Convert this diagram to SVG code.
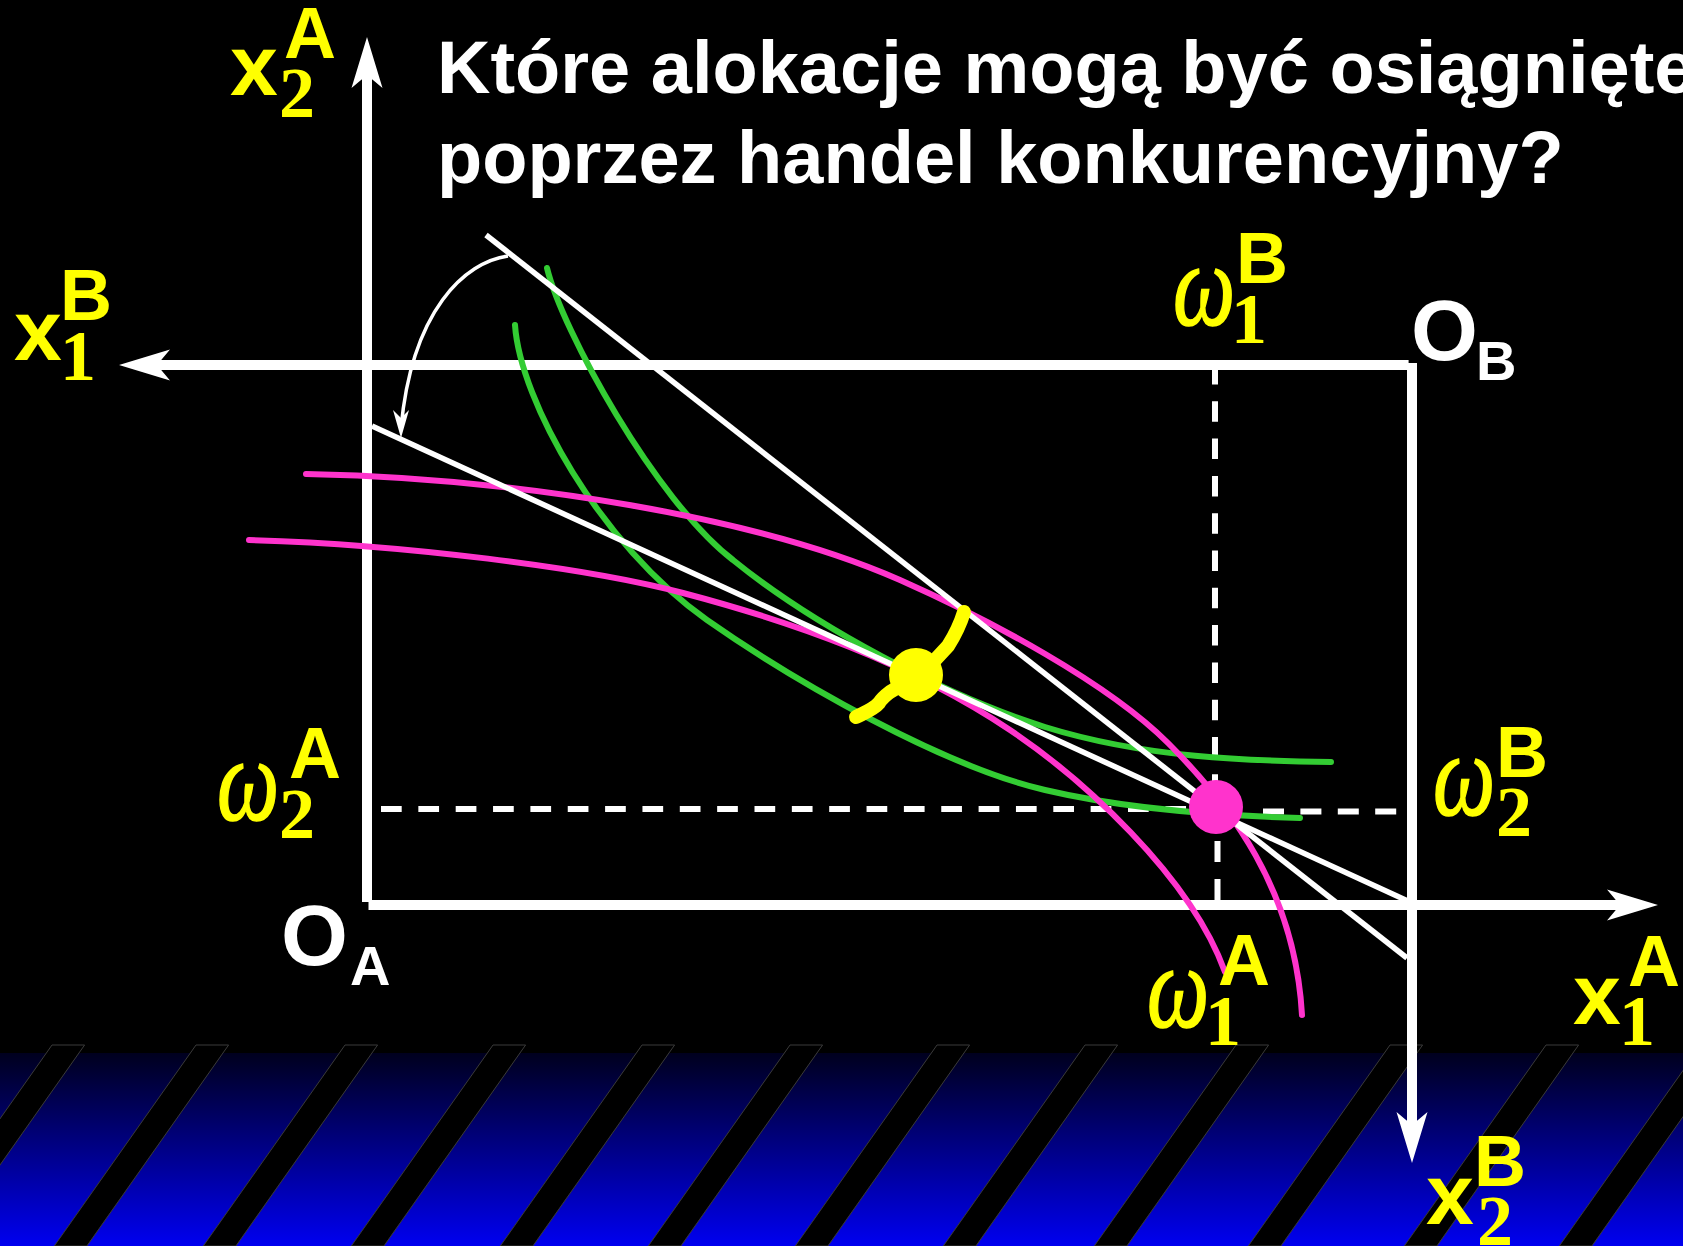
<svg xmlns="http://www.w3.org/2000/svg" width="1683" height="1246" viewBox="0 0 1683 1246">
<defs>
<linearGradient id="floor" x1="0" y1="1053" x2="0" y2="1246" gradientUnits="userSpaceOnUse">
<stop offset="0" stop-color="#00001e"/>
<stop offset="1" stop-color="#0000f0"/>
</linearGradient>
<marker id="ah" markerUnits="userSpaceOnUse" orient="auto" overflow="visible" markerWidth="1" markerHeight="1" refX="0" refY="0">
<path d="M38,0 L-13,-15.5 L0,0 L-13,15.5 Z" fill="#ffffff"/>
</marker>
<style>
.axis{fill:none;stroke:#ffffff;stroke-width:10}
.dash{fill:none;stroke:#ffffff;stroke-width:6}
.budget{fill:none;stroke:#ffffff;stroke-width:5.5;stroke-linecap:butt}
.green{fill:none;stroke:#33cc33;stroke-width:6;stroke-linecap:round}
.pink{fill:none;stroke:#ff33cc;stroke-width:6;stroke-linecap:round}
.stripe{fill:#000000;stroke:#3a3a3a;stroke-width:1}
.lx{font-family:"Liberation Sans",Arial,sans-serif;font-weight:bold;fill:#ffff00}
.ld{font-family:"Liberation Serif","Times New Roman",serif;font-weight:bold;fill:#ffff00;font-size:72px}
.lw{font-family:"Liberation Serif","Times New Roman",serif;font-style:italic;fill:#ffff00;stroke:#ffff00;stroke-width:1.2;font-size:88px}
.lo{font-family:"Liberation Sans",Arial,sans-serif;font-weight:bold;fill:#ffffff}
.q{font-family:"Liberation Sans",Arial,sans-serif;font-weight:bold;fill:#ffffff;font-size:74px}
</style>
</defs>
<rect x="0" y="0" width="1683" height="1246" fill="#000000"/>
<g id="floor-band">
<rect x="0" y="1053" width="1683" height="193" fill="url(#floor)"/>
<polygon class="stripe" points="52,1045 84.6,1045 -57.1,1246 -89.7,1246"/>
<polygon class="stripe" points="196,1045 228.6,1045 86.9,1246 54.3,1246"/>
<polygon class="stripe" points="345,1045 377.6,1045 235.9,1246 203.3,1246"/>
<polygon class="stripe" points="493,1045 525.6,1045 383.9,1246 351.3,1246"/>
<polygon class="stripe" points="642,1045 674.6,1045 532.9,1246 500.3,1246"/>
<polygon class="stripe" points="790,1045 822.6,1045 680.9,1246 648.3,1246"/>
<polygon class="stripe" points="937,1045 969.6,1045 827.9,1246 795.3,1246"/>
<polygon class="stripe" points="1085,1045 1117.6,1045 975.9,1246 943.3,1246"/>
<polygon class="stripe" points="1236,1045 1268.6,1045 1126.9,1246 1094.3,1246"/>
<polygon class="stripe" points="1390,1045 1422.6,1045 1280.9,1246 1248.3,1246"/>
<polygon class="stripe" points="1546,1045 1578.6,1045 1436.9,1246 1404.3,1246"/>
<polygon class="stripe" points="1701,1045 1733.6,1045 1591.9,1246 1559.3,1246"/>
</g>
<g id="question">
<text class="q" x="437" y="93">Które alokacje mogą być osiągnięte</text>
<text class="q" x="437" y="183">poprzez handel konkurencyjny?</text>
</g>
<g id="connectors">
<path class="dash" d="M1215,364 V800" stroke-dasharray="20.5 16.8"/>
<path class="dash" d="M1217.5,803 V900" stroke-dasharray="21 17"/>
<path class="dash" d="M381,809 H1200" stroke-dasharray="20.7 16.65"/>
<path class="dash" d="M1263,811.5 H1398" stroke-dasharray="21 16.4"/>
<path class="axis" d="M367,902 V75" marker-end="url(#ah)"/>
<path class="axis" d="M368.5,905 H1620" marker-end="url(#ah)"/>
<path class="axis" d="M1408.6,365 H157" marker-end="url(#ah)"/>
<path class="axis" d="M1412,363 V1125" marker-end="url(#ah)"/>
</g>
<g id="indifference-curves">
<path id="green-1" class="green" d="M547,268 C562,330 655,500 733,560 C813,625 945,696 1045,727 C1145,758 1250,761 1331,762"/>
<path id="green-2" class="green" d="M515,325 C520,400 600,545 707,620 C797,683 945,767 1045,790 C1130,810 1230,816 1300,818"/>
<path id="pink-1" class="pink" d="M306,474 C520,478 760,518 900,580 C990,620 1108,683 1168,743 C1230,805 1295,890 1302,1015"/>
<path id="pink-2" class="pink" d="M249,540 C400,544 590,568 683,593 C793,622 910,663 1010,730 C1080,777 1190,875 1225,972"/>
</g>
<g id="budget-lines">
<path class="budget" d="M486,235 L1407,958"/>
<path class="budget" d="M372,426 L1410,902"/>
</g>
<g id="rotation-arrow">
<path d="M508,256 C465,262 412,310 401,428" fill="none" stroke="#ffffff" stroke-width="3.5"/>
<path d="M401,438 L393,410 L401,418 L409,410 Z" fill="#ffffff"/>
</g>
<g id="equilibrium">
<path d="M856,717 C866,712 874,709 879,703 C882,698 886,695 890,692 L900,686 M935,660 L948,646 C955,635 960,625 964,612" fill="none" stroke="#ffff00" stroke-width="14" stroke-linecap="round" stroke-linejoin="round"/>
<circle cx="916" cy="675" r="27" fill="#ffff00"/>
</g>
<g id="endowment">
<circle cx="1216" cy="807" r="27" fill="#ff33cc"/>
</g>
<g id="label-x2A">
<text class="lx" x="230" y="95" font-size="86">x</text>
<text class="ld" x="279" y="117">2</text>
<text class="lx" x="284" y="58" font-size="72">A</text>
</g>
<g id="label-x1B">
<text class="lx" x="14" y="360" font-size="86">x</text>
<text class="ld" x="60" y="380">1</text>
<text class="lx" x="60" y="320" font-size="72">B</text>
</g>
<g id="label-w1B">
<text class="lw" transform="translate(1173,325) scale(1,1.35)">ω</text>
<text class="ld" x="1231" y="343">1</text>
<text class="lx" x="1236" y="283" font-size="72">B</text>
</g>
<g id="label-OB">
<text class="lo" x="1411" y="360" font-size="86">O</text>
<text class="lo" x="1476" y="380" font-size="56">B</text>
</g>
<g id="label-w2A">
<text class="lw" transform="translate(217,820) scale(1,1.35)">ω</text>
<text class="ld" x="279" y="838">2</text>
<text class="lx" x="289" y="778" font-size="72">A</text>
</g>
<g id="label-OA">
<text class="lo" x="281" y="965" font-size="86">O</text>
<text class="lo" x="350" y="985" font-size="56">A</text>
</g>
<g id="label-w2B">
<text class="lw" transform="translate(1433,815) scale(1,1.35)">ω</text>
<text class="ld" x="1496" y="836">2</text>
<text class="lx" x="1496" y="777" font-size="72">B</text>
</g>
<g id="label-w1A">
<text class="lw" transform="translate(1147,1027) scale(1,1.35)">ω</text>
<text class="ld" x="1205" y="1045">1</text>
<text class="lx" x="1218" y="985" font-size="72">A</text>
</g>
<g id="label-x1A">
<text class="lx" x="1573" y="1024" font-size="86">x</text>
<text class="ld" x="1619" y="1045">1</text>
<text class="lx" x="1628" y="986" font-size="72">A</text>
</g>
<g id="label-x2B">
<text class="lx" x="1426" y="1224" font-size="86">x</text>
<text class="ld" x="1477" y="1245">2</text>
<text class="lx" x="1474" y="1186" font-size="72">B</text>
</g>
</svg>
